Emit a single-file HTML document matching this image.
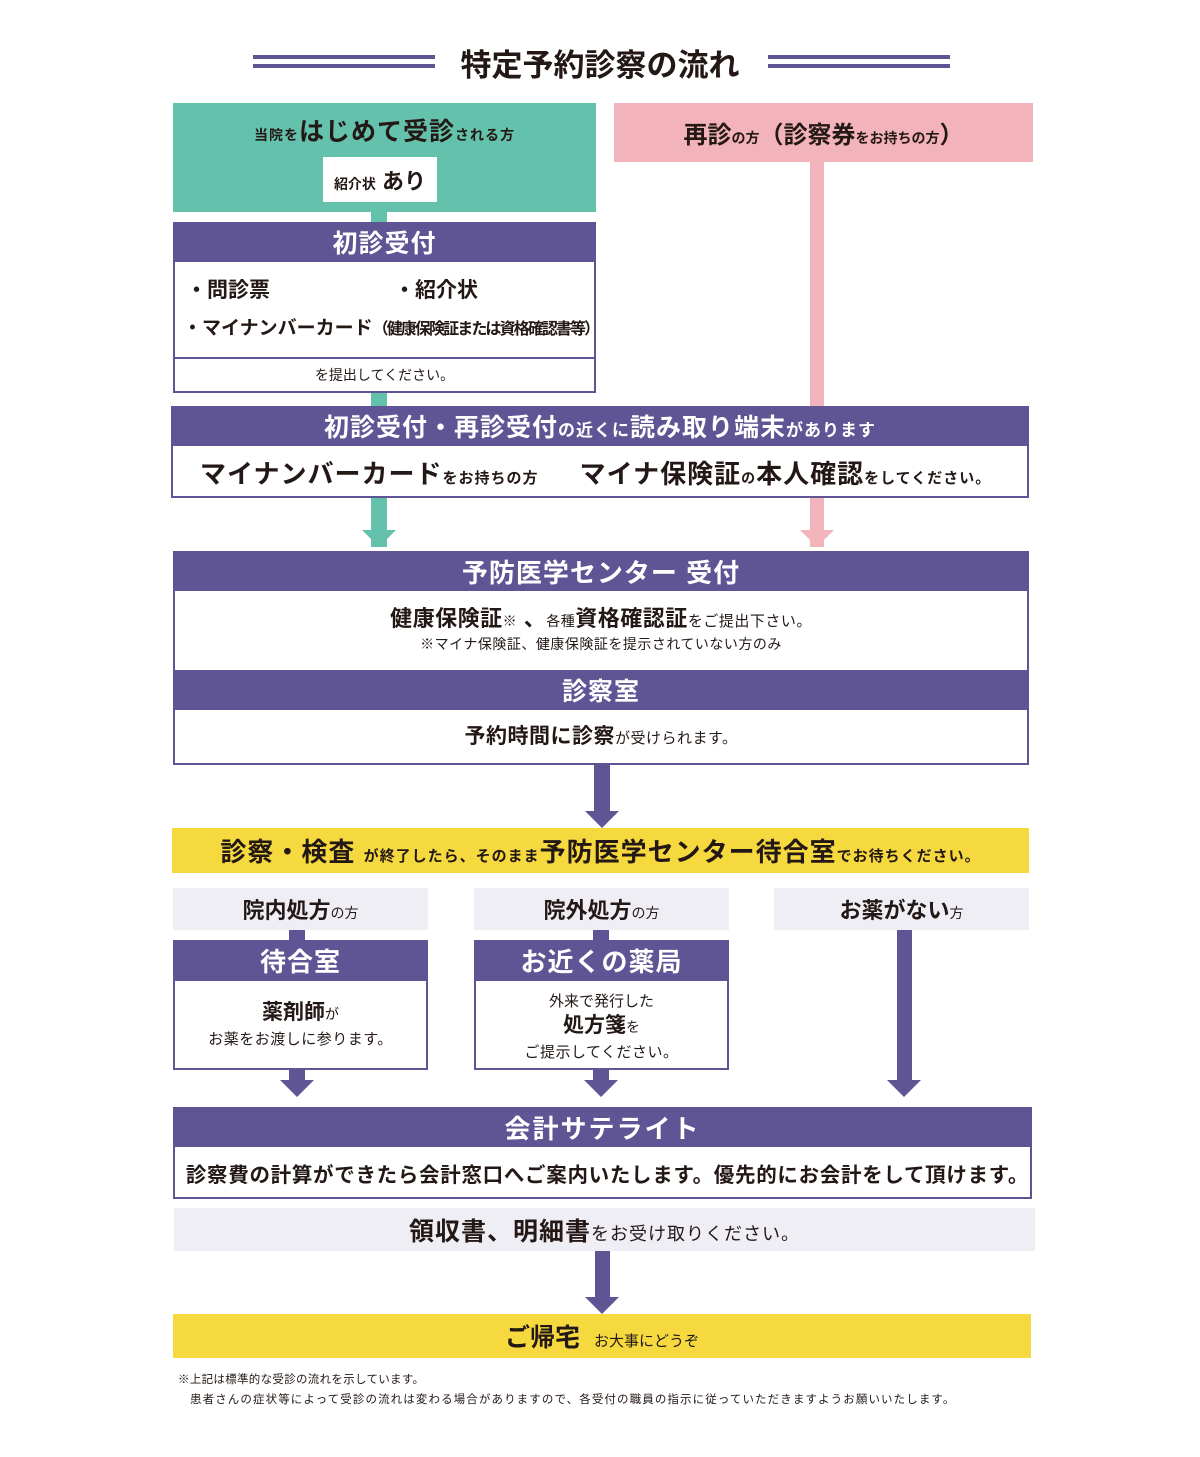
<!DOCTYPE html>
<html><head><meta charset="utf-8"><style>
*{margin:0;padding:0;box-sizing:border-box}
body{width:1200px;height:1457px;background:#fff;position:relative;font-family:"Liberation Sans","Noto Sans CJK JP",sans-serif;color:#231815;overflow:hidden}
.a{position:absolute}
.p{background:#5f5494}
.t{background:#64c1ab}
.k{background:#f3b3bb}
.y{background:#f5d93e}
.g{background:#efeef5}
.w{background:#fff;border:2px solid #5f5494}
.c{display:flex;align-items:center;justify-content:center;text-align:center;white-space:nowrap;font-weight:bold}
.c>div{white-space:nowrap}
.hd{color:#fff;font-size:25px;letter-spacing:1px}
.s{font-size:14px}
.n{font-weight:normal}
.tri{position:absolute;width:0;height:0;border-left:17px solid transparent;border-right:17px solid transparent;border-top:17px solid #5f5494}
</style></head><body>
<div class="a p" style="left:253px;top:55px;width:182px;height:4px"></div>
<div class="a p" style="left:253px;top:64px;width:182px;height:4px"></div>
<div class="a p" style="left:768px;top:55px;width:182px;height:4px"></div>
<div class="a p" style="left:768px;top:64px;width:182px;height:4px"></div>
<div class="a c" style="left:440px;top:40px;width:320px;height:44px;font-size:31px">特定予約診察の流れ</div>

<div class="a t" style="left:173px;top:103px;width:423px;height:109px"></div>
<div class="a c" style="left:173px;top:112px;width:423px;height:36px;font-size:25px;letter-spacing:1px"><div><span class="s">当院を</span>はじめて受診<span class="s">される方</span></div></div>
<div class="a c" style="left:323px;top:157px;width:114px;height:45px;background:#fff;font-size:22px"><div><span class="s">紹介状</span>&nbsp;あり</div></div>
<div class="a k" style="left:614px;top:103px;width:419px;height:59px"></div>
<div class="a c" style="left:614px;top:113px;width:419px;height:38px;font-size:24px"><div>再診<span class="s">の方</span>（診察券<span class="s">をお持ちの方</span>）</div></div>

<div class="a t" style="left:371px;top:212px;width:16px;height:335px"></div>
<div class="a k" style="left:810px;top:162px;width:14px;height:385px"></div>

<div class="a p c hd" style="left:173px;top:222px;width:423px;height:40px">初診受付</div>
<div class="a w" style="left:173px;top:260px;width:423px;height:99px"></div>
<div class="a" style="left:186px;top:274px;font-size:21px;font-weight:bold">・問診票</div>
<div class="a" style="left:394px;top:274px;font-size:21px;font-weight:bold">・紹介状</div>
<div class="a" style="left:183px;top:313px;font-size:19px;font-weight:bold;white-space:nowrap;letter-spacing:0px">・マイナンバーカード<span style="font-size:16px;letter-spacing:-1.9px">（健康保険証または資格確認書等）</span></div>
<div class="a w c n" style="left:173px;top:357px;width:423px;height:36px;font-size:14px;font-weight:normal">を提出してください。</div>

<div class="a p c hd" style="left:171px;top:406px;width:858px;height:40px;font-size:25px"><div>初診受付・再診受付<span style="font-size:17px">の近くに</span>読み取り端末<span style="font-size:17px">があります</span></div></div>
<div class="a w" style="left:171px;top:444px;width:858px;height:54px"></div>
<div class="a c" style="left:171px;top:452px;width:858px;height:40px;font-size:26px;justify-content:flex-start;padding-left:29px;letter-spacing:1px"><div>マイナンバーカード<span style="font-size:15px">をお持ちの方</span>&nbsp;&nbsp;&nbsp;&nbsp;&nbsp;マイナ保険証<span class="s">の</span>本人確認<span style="font-size:15px">をしてください。</span></div></div>
<div class="a t" style="left:371px;top:498px;width:16px;height:34px"></div>
<div class="a k" style="left:810px;top:498px;width:14px;height:34px"></div>
<div class="tri" style="left:362px;top:530px;border-top-color:#64c1ab"></div>
<div class="tri" style="left:800px;top:530px;border-top-color:#f3b3bb"></div>

<div class="a p c hd" style="left:173px;top:551px;width:856px;height:40px;font-size:26px">予防医学センター 受付</div>
<div class="a w" style="left:173px;top:589px;width:856px;height:83px"></div>
<div class="a c" style="left:173px;top:602px;width:856px;height:30px;font-size:22px;letter-spacing:0.5px"><div>健康保険証<span class="s n">※</span>&nbsp;、<span class="s n">各種</span>資格確認証<span class="s n" style="font-size:15px">をご提出下さい。</span></div></div>
<div class="a c n" style="left:173px;top:634px;width:856px;height:20px;font-size:14px;font-weight:normal;letter-spacing:0.5px">※マイナ保険証、健康保険証を提示されていない方のみ</div>
<div class="a p c hd" style="left:173px;top:670px;width:856px;height:40px">診察室</div>
<div class="a w" style="left:173px;top:708px;width:856px;height:57px"></div>
<div class="a c" style="left:173px;top:718px;width:856px;height:34px;font-size:21px;letter-spacing:0.5px"><div>予約時間に診察<span class="n" style="font-size:15px">が受けられます。</span></div></div>
<div class="a p" style="left:594px;top:765px;width:16px;height:48px"></div>
<div class="tri" style="left:585px;top:811px"></div>

<div class="a y c" style="left:172px;top:828px;width:857px;height:45px;font-size:26px;letter-spacing:1px"><div>診察・検査&nbsp;<span style="font-size:15px">が終了したら、そのまま</span>予防医学センター待合室<span style="font-size:15px">でお待ちください。</span></div></div>

<div class="a g c" style="left:173px;top:888px;width:255px;height:42px;font-size:22px"><div>院内処方<span class="s n">の方</span></div></div>
<div class="a g c" style="left:474px;top:888px;width:255px;height:42px;font-size:22px"><div>院外処方<span class="s n">の方</span></div></div>
<div class="a g c" style="left:774px;top:888px;width:255px;height:42px;font-size:22px"><div>お薬がない<span class="s n">方</span></div></div>
<div class="a p" style="left:289px;top:930px;width:16px;height:12px"></div>
<div class="a p" style="left:593px;top:930px;width:16px;height:12px"></div>
<div class="a p c hd" style="left:173px;top:940px;width:255px;height:41px;font-size:26px">待合室</div>
<div class="a w" style="left:173px;top:979px;width:255px;height:91px"></div>
<div class="a c" style="left:173px;top:996px;width:255px;height:30px;font-size:21px"><div>薬剤師<span class="s n">が</span></div></div>
<div class="a c n" style="left:173px;top:1028px;width:255px;height:20px;font-size:15px;font-weight:normal;letter-spacing:0.5px">お薬をお渡しに参ります。</div>
<div class="a p c hd" style="left:474px;top:940px;width:255px;height:41px;font-size:26px">お近くの薬局</div>
<div class="a w" style="left:474px;top:979px;width:255px;height:91px"></div>
<div class="a c n" style="left:474px;top:990px;width:255px;height:20px;font-size:15px;font-weight:normal">外来で発行した</div>
<div class="a c" style="left:474px;top:1010px;width:255px;height:28px;font-size:21px"><div>処方箋<span class="s n">を</span></div></div>
<div class="a c n" style="left:474px;top:1041px;width:255px;height:20px;font-size:15px;font-weight:normal;letter-spacing:0.5px">ご提示してください。</div>
<div class="a p" style="left:289px;top:1070px;width:16px;height:12px"></div>
<div class="a p" style="left:593px;top:1070px;width:16px;height:12px"></div>
<div class="a p" style="left:897px;top:930px;width:15px;height:152px"></div>
<div class="tri" style="left:280px;top:1080px"></div>
<div class="tri" style="left:584px;top:1080px"></div>
<div class="tri" style="left:887px;top:1080px"></div>

<div class="a p c hd" style="left:173px;top:1107px;width:859px;height:40px;font-size:26px;letter-spacing:2px">会計サテライト</div>
<div class="a w" style="left:173px;top:1145px;width:859px;height:54px"></div>
<div class="a c" style="left:173px;top:1155px;width:859px;height:36px;font-size:20.5px;letter-spacing:0.7px;padding-left:10px">診察費の計算ができたら会計窓口へご案内いたします。優先的にお会計をして頂けます。</div>
<div class="a g c" style="left:174px;top:1208px;width:861px;height:43px;font-size:25px;letter-spacing:1px"><div>領収書、明細書<span class="n" style="font-size:18px">をお受け取りください。</span></div></div>
<div class="a p" style="left:595px;top:1251px;width:15px;height:48px"></div>
<div class="tri" style="left:585px;top:1297px"></div>
<div class="a y c" style="left:173px;top:1314px;width:858px;height:44px;font-size:25px"><div>ご帰宅&nbsp;&nbsp;<span class="n" style="font-size:15px">お大事にどうぞ</span></div></div>

<div class="a" style="left:178px;top:1371px;font-size:11.5px;white-space:nowrap;letter-spacing:0.3px">※上記は標準的な受診の流れを示しています。</div>
<div class="a" style="left:190px;top:1391px;font-size:11.5px;white-space:nowrap;letter-spacing:1.1px">患者さんの症状等によって受診の流れは変わる場合がありますので、各受付の職員の指示に従っていただきますようお願いいたします。</div>
</body></html>
